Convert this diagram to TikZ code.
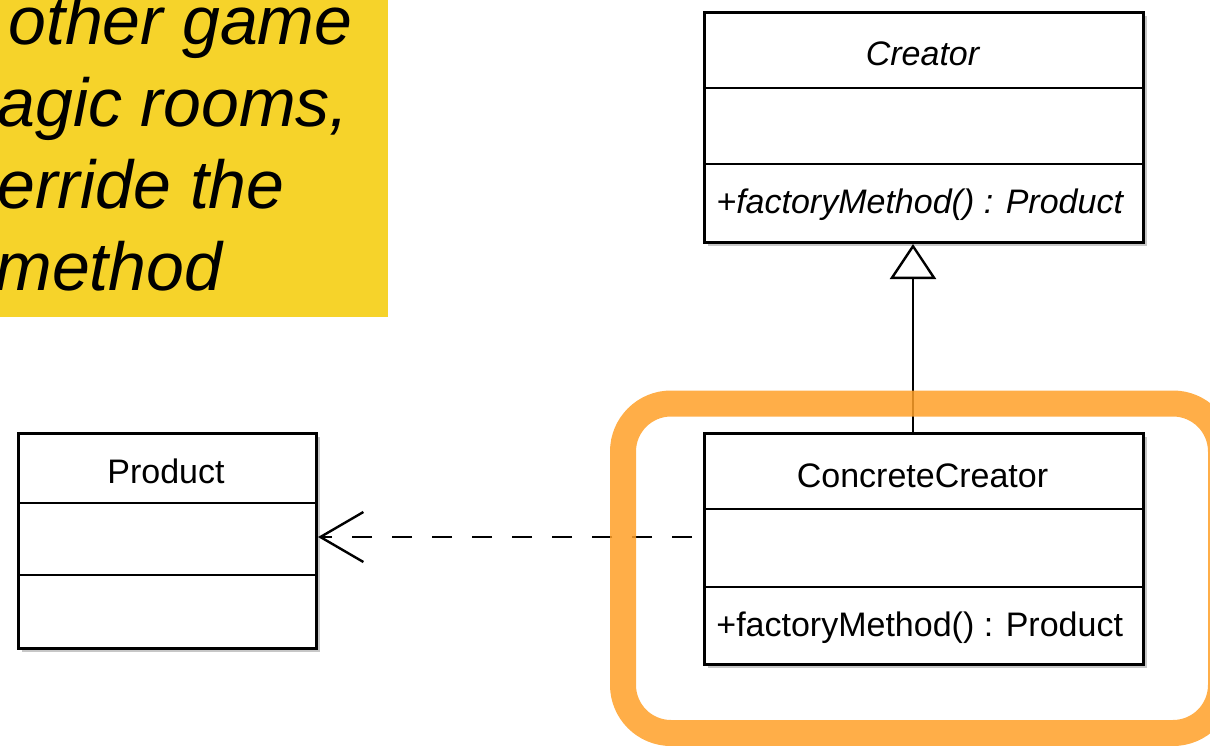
\documentclass[tikz,border=0pt]{standalone}
\usepackage{fontspec}
\setmainfont{Liberation Sans}
\usetikzlibrary{arrows.meta,shadows}
\definecolor{noteyellow}{RGB}{246,211,42}
\definecolor{markorange}{RGB}{255,160,40}
\tikzset{
  classbox/.style={draw=black, fill=white, line width=1.5pt, inner sep=0pt,
    anchor=north west,
    drop shadow={shadow xshift=1.5pt, shadow yshift=-1.5pt, fill=black, opacity=.22}},
  divider/.style={draw=black, line width=1.4pt},
  classtext/.style={font=\fontsize{17}{20}\selectfont, inner sep=0pt},
  notetext/.style={font=\fontsize{34}{41}\selectfont\itshape, inner sep=0pt, anchor=base west},
  inherit/.style={line width=1.2pt, -{Triangle[open, length=17.5pt, width=23pt, line width=1.2pt]}},
  depend/.style={line width=1.2pt, dash pattern=on 10pt off 10pt, dash phase=14.5pt,
    -{Straight Barb[length=21.5pt, width=25pt, line width=1.2pt]}},
  highlight/.style={draw=markorange, draw opacity=.85, line width=13pt, rounded corners=24pt}
}
\begin{document}
\begin{tikzpicture}[x=0.5pt, y=-0.5pt]
\useasboundingbox (0,0) rectangle (1210,745);

% yellow note, its text running past the left edge
\begin{scope}
  \clip (0,0) rectangle (388,317);
  \fill[noteyellow] (0,0) rectangle (388,317);
  \node[notetext] (l1) at (8,44) {other game};
  \node[notetext] (l2) at (-3,126) {agic rooms,};
  \node[notetext] (l3) at (-3,208) {erride the};
  \node[notetext] (l4) at (-5,290) {method};
\end{scope}

% Creator
\node[classbox, minimum width=219.5pt, minimum height=115pt] (cr) at (703,11) {};
\draw[divider] (cr.west |- 0,88) -- (cr.east |- 0,88);
\draw[divider] (cr.west |- 0,164) -- (cr.east |- 0,164);
\node[classtext, anchor=base] (crname) at (922.5,65) {\itshape Creator};
\node[classtext, anchor=base west] (crop) at (716,213) {\itshape +factoryMethod() : Product};

% Product
\node[classbox, minimum width=149pt, minimum height=107.5pt] (pr) at (17,432) {};
\draw[divider] (pr.west |- 0,503) -- (pr.east |- 0,503);
\draw[divider] (pr.west |- 0,575) -- (pr.east |- 0,575);
\node[classtext, anchor=base] (prname) at (166,483) {Product};

% ConcreteCreator
\node[classbox, minimum width=219.5pt, minimum height=115.5pt] (cc) at (703,432) {};
\draw[divider] (cc.west |- 0,509) -- (cc.east |- 0,509);
\draw[divider] (cc.west |- 0,587) -- (cc.east |- 0,587);
\node[classtext, anchor=base] (ccname) at (922.5,487) {ConcreteCreator};
\node[classtext, anchor=base west] (ccop) at (716,636) {+factoryMethod() : Product};

% connectors
\draw[inherit] (cc.north -| 913,0) -- (cr.south -| 913,0);
\draw[depend] (cc.west |- 0,537) -- (pr.east |- 0,537);

% highlight round ConcreteCreator
\draw[highlight] (623,403.5) rectangle (1221,733);
\end{tikzpicture}
\end{document}
